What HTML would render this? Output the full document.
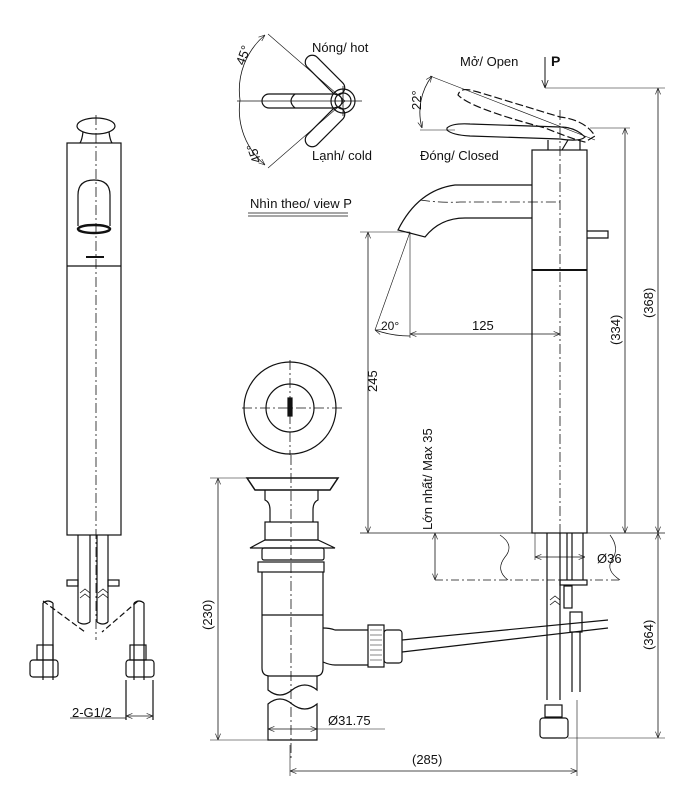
<!DOCTYPE html>
<html><head><meta charset="utf-8"><style>
html,body{margin:0;padding:0;background:#fff;}
svg{display:block;}
text{font-family:"Liberation Sans",sans-serif;fill:#111;}
</style></head><body>
<svg width="685" height="811" viewBox="0 0 685 811" xmlns="http://www.w3.org/2000/svg">
<defs>
<marker id="a" viewBox="0 0 10 10" refX="10" refY="5" markerWidth="8" markerHeight="8" orient="auto-start-reverse"><path d="M0,1 L10,5 L0,9" fill="none" stroke="#222" stroke-width="1"/></marker>
</defs>
<g fill="none" stroke="#111" stroke-width="1.2">
<!-- LEFT VIEW -->
<ellipse cx="96" cy="126" rx="19" ry="8"/>
<path d="M83,132 Q82,140 80,143 M109,132 Q110,140 112,143"/>
<rect x="67" y="143" width="54" height="392"/>
<line x1="67" y1="266" x2="121" y2="266"/>
<path d="M78,226 L78,195 Q78,180 94,180 Q110,180 110,195 L110,226"/>
<ellipse cx="94" cy="229" rx="16" ry="4" stroke-width="2.5"/>
<line x1="86" y1="257" x2="104" y2="257" stroke-width="2"/>
<line x1="96" y1="115" x2="96" y2="640" stroke-dasharray="10,3,2,3" stroke-width="0.8"/>
<path d="M78,535 L78,622 M90,535 L90,622 M97,535 L97,622 M108,535 L108,622"/>
<path d="M78,622 Q84,626 90,622 M97,622 Q103,626 108,622"/>
<rect x="67" y="580" width="11" height="6"/><rect x="108" y="580" width="11" height="6"/>
<path d="M80,593 l5,-4 l5,4 M80,598 l5,-4 l5,4 M98,593 l5,-4 l5,4 M98,598 l5,-4 l5,4" stroke-width="0.8"/>
<path d="M43,603 L43,680 M53,603 L53,680 M134,603 L134,680 M144,603 L144,680" />
<path d="M43,603 Q48,599 53,603 M134,603 Q139,599 144,603"/>
<path d="M43,601 L85,632 M138,601 L102,632" stroke-dasharray="6,3"/>
<rect x="30" y="660" width="28" height="17" rx="3"/><rect x="126" y="660" width="28" height="17" rx="3"/>
<rect x="37" y="645" width="16" height="15"/><rect x="130" y="645" width="16" height="15"/>
<path d="M126,680 L126,720 M153,680 L153,720"/>
<line x1="70" y1="718" x2="126" y2="718" stroke-width="0.8"/>
<line x1="126" y1="716" x2="153" y2="716" stroke-width="0.8" marker-start="url(#a)" marker-end="url(#a)"/>

<!-- VIEW P -->
<path d="M265,35 A72,72 0 0 0 240,100 A72,72 0 0 0 265,165" stroke-width="0.8" marker-start="url(#a)" marker-end="url(#a)"/>
<line x1="237" y1="101" x2="362" y2="101" stroke-width="0.8"/>
<rect x="262" y="94" width="80" height="14" rx="7"/>
<path d="M295,94 Q287,101 295,108"/>
<line x1="268" y1="34" x2="345" y2="101" stroke-width="0.6"/>
<line x1="268" y1="168" x2="345" y2="101" stroke-width="0.6"/>
<rect x="300" y="68" width="50" height="14" rx="7" transform="rotate(45 325 75)"/>
<rect x="300" y="120" width="50" height="14" rx="7" transform="rotate(-45 325 127)"/>
<circle cx="343" cy="101" r="12"/><circle cx="343" cy="101" r="8"/>
<line x1="343" y1="86" x2="343" y2="116" stroke-width="0.8"/>
<line x1="248" y1="213" x2="348" y2="213" stroke-width="0.8"/>
<line x1="248" y1="216" x2="348" y2="216" stroke-width="0.8"/>

<!-- RIGHT VIEW -->
<rect x="532" y="150" width="55" height="383"/>
<line x1="532" y1="270" x2="587" y2="270" stroke-width="2"/>
<path d="M532,185 L455,185 Q418,190 398,230 L425,237 Q440,218 465,218 L532,218"/>
<path d="M420,200 Q440,203 460,202 L560,202" stroke-dasharray="10,3,2,3" stroke-width="0.8"/>
<line x1="560" y1="110" x2="560" y2="700" stroke-dasharray="10,3,2,3" stroke-width="0.8"/>
<path d="M587,231 L608,231 L608,238 L587,238"/>
<path d="M447,128 Q452,123 470,124 L560,127 Q575,127 585,137 Q580,142 560,139 L470,136 Q452,135 447,130 Z"/>
<path d="M470,90 Q460,88 458,95 Q470,108 545,128 Q575,140 585,142 L595,136 Q585,120 560,117 L478,92 Z" stroke-dasharray="8,3"/>
<path d="M548,140 L548,150 M568,140 L562,150 M580,140 L580,150"/>
<line x1="420" y1="130" x2="455" y2="130" stroke-width="0.6"/>
<line x1="430" y1="76" x2="595" y2="140" stroke-width="0.6"/>
<path d="M432,76 A60,60 0 0 0 422,128" stroke-width="0.8" marker-start="url(#a)" marker-end="url(#a)"/>
<line x1="545" y1="57" x2="545" y2="88" stroke-width="1" marker-end="url(#a)"/>
<line x1="545" y1="88" x2="665" y2="88" stroke-width="0.6"/>
<line x1="590" y1="128" x2="630" y2="128" stroke-width="0.6"/>
<line x1="658" y1="88" x2="658" y2="533" stroke-width="0.8" marker-start="url(#a)" marker-end="url(#a)"/>
<line x1="625" y1="128" x2="625" y2="533" stroke-width="0.8" marker-start="url(#a)" marker-end="url(#a)"/>
<line x1="360" y1="232" x2="410" y2="232" stroke-width="0.6"/>
<line x1="368" y1="232" x2="368" y2="533" stroke-width="0.8" marker-start="url(#a)" marker-end="url(#a)"/>
<line x1="410" y1="232" x2="410" y2="338" stroke-width="0.6"/>
<line x1="410" y1="232" x2="375" y2="330" stroke-width="0.6"/>
<path d="M375,330 Q392,336 410,336" stroke-width="0.8" marker-start="url(#a)"/>
<line x1="410" y1="334" x2="560" y2="334" stroke-width="0.8" marker-start="url(#a)" marker-end="url(#a)"/>
<line x1="360" y1="533" x2="665" y2="533" stroke-width="0.8"/>
<line x1="435" y1="580" x2="620" y2="580" stroke-dasharray="8,3,2,3" stroke-width="0.8"/>
<line x1="435" y1="533" x2="435" y2="580" stroke-width="0.8" marker-start="url(#a)" marker-end="url(#a)"/>
<path d="M500,535 Q515,545 505,557 Q495,570 508,580" stroke-width="0.7"/>
<path d="M610,535 Q620,548 612,560 Q605,570 620,580" stroke-width="0.7"/>
<path d="M547,533 L547,700 M560,533 L560,700 M567,533 L567,580 M572,533 L572,580 M583,533 L583,580"/>
<line x1="535" y1="557" x2="585" y2="557" stroke-width="0.8" marker-start="url(#a)" marker-end="url(#a)"/>
<line x1="535" y1="533" x2="535" y2="560" stroke-width="0.6"/>
<rect x="560" y="580" width="27" height="5"/>
<rect x="564" y="586" width="8" height="22"/>
<rect x="570" y="612" width="12" height="20"/>
<path d="M572,632 L572,692 M580,632 L580,692"/>
<path d="M550,600 l5,-4 l5,4 M550,605 l5,-4 l5,4" stroke-width="0.8"/>
<rect x="545" y="705" width="17" height="12"/>
<rect x="540" y="718" width="28" height="20" rx="3"/>
<line x1="568" y1="738" x2="665" y2="738" stroke-width="0.6"/>
<line x1="658" y1="533" x2="658" y2="738" stroke-width="0.8" marker-start="url(#a)" marker-end="url(#a)"/>
<line x1="577" y1="700" x2="577" y2="776" stroke-width="0.6"/>
<line x1="290" y1="745" x2="290" y2="776" stroke-width="0.6"/>
<line x1="290" y1="771" x2="577" y2="771" stroke-width="0.8" marker-start="url(#a)" marker-end="url(#a)"/>

<!-- DRAIN TOP VIEW -->
<circle cx="290" cy="408" r="46"/><circle cx="290" cy="408" r="24"/>
<line x1="242" y1="408" x2="345" y2="408" stroke-dasharray="10,3,2,3" stroke-width="0.8"/>
<line x1="290" y1="360" x2="290" y2="455" stroke-dasharray="10,3,2,3" stroke-width="0.8"/>
<rect x="288" y="398" width="4" height="18" fill="#111"/>

<!-- DRAIN SIDE -->
<path d="M247,478 L338,478 L330,490 L255,490 Z" stroke-width="1.5"/>
<path d="M265,490 L265,500 Q270,502 270,510 L270,522 M318,490 L318,500 Q313,502 313,510 L313,522"/>
<rect x="265" y="522" width="53" height="18"/>
<path d="M250,548 L265,540 L318,540 L335,548 Z"/>
<rect x="262" y="548" width="62" height="12" rx="2"/>
<rect x="258" y="562" width="66" height="10"/>
<path d="M262,572 L262,668 Q262,676 270,676 L316,676 Q323,676 323,668 L323,572"/>
<line x1="262" y1="615" x2="323" y2="615"/>
<path d="M323,628 Q330,628 335,630 L368,630 M323,662 Q330,665 335,665 L368,665"/>
<rect x="368" y="625" width="16" height="42"/>
<path d="M370,630 L382,630 M370,635 L382,635 M370,640 L382,640 M370,645 L382,645 M370,650 L382,650 M370,655 L382,655 M370,660 L382,660" stroke-width="0.6"/>
<rect x="384" y="630" width="18" height="33" rx="3"/>
<path d="M402,640 L608,620 M402,652 L608,628"/>
<path d="M268,676 L268,690 Q280,700 292,690 Q305,680 317,690 L317,676"/>
<path d="M268,740 L268,704 Q280,694 292,704 Q305,714 317,704 L317,740 Z"/>
<line x1="291" y1="455" x2="291" y2="760" stroke-dasharray="10,3,2,3" stroke-width="0.8"/>
<line x1="210" y1="478" x2="247" y2="478" stroke-width="0.6"/>
<line x1="210" y1="740" x2="268" y2="740" stroke-width="0.6"/>
<line x1="218" y1="478" x2="218" y2="740" stroke-width="0.8" marker-start="url(#a)" marker-end="url(#a)"/>
<line x1="268" y1="729" x2="317" y2="729" stroke-width="0.8" marker-start="url(#a)" marker-end="url(#a)"/>
<line x1="317" y1="729" x2="385" y2="729" stroke-width="0.6"/>
</g>
<g font-size="13">
<text x="312" y="52">Nóng/ hot</text>
<text x="312" y="160">Lạnh/ cold</text>
<text x="250" y="208">Nhìn theo/ view P</text>
<text x="460" y="66">Mở/ Open</text>
<text x="551" y="66" font-family="Liberation Serif,serif" font-weight="bold" font-size="14">P</text>
<text x="420" y="160">Đóng/ Closed</text>
<text x="472" y="330">125</text>
<text x="381" y="330" font-size="12">20°</text>
<text x="72" y="717">2-G1/2</text>
<text x="597" y="563">Ø36</text>
<text x="328" y="725">Ø31.75</text>
<text x="412" y="764">(285)</text>
<text transform="translate(244,66) rotate(-70)">45°</text>
<text transform="translate(258,152) rotate(-110)" text-anchor="middle">45°</text>
<text transform="translate(421,110) rotate(-90)">22°</text>
<text transform="translate(377,392) rotate(-90)">245</text>
<text transform="translate(432,530) rotate(-90)">Lớn nhất/ Max 35</text>
<text transform="translate(620,345) rotate(-90)">(334)</text>
<text transform="translate(653,318) rotate(-90)">(368)</text>
<text transform="translate(653,650) rotate(-90)">(364)</text>
<text transform="translate(212,630) rotate(-90)">(230)</text>
</g>
</svg>
</body></html>
